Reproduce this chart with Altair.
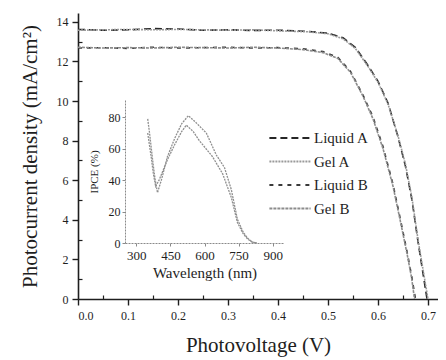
import altair as alt
import pandas as pd

# ---------------- data ----------------
series_names = ["Liquid A", "Gel A", "Liquid B", "Gel B"]

v_liquid_a = [0.00, 0.05, 0.10, 0.15, 0.20, 0.25, 0.30, 0.35, 0.40, 0.46, 0.50, 0.53, 0.555, 0.58, 0.60, 0.62, 0.64, 0.655, 0.668, 0.68, 0.69, 0.698]
j_liquid_a = [13.62, 13.58, 13.6, 13.66, 13.64, 13.58, 13.6, 13.57, 13.58, 13.52, 13.43, 13.2, 12.7, 11.8, 11.0, 9.9, 8.2, 6.7, 5.0, 2.9, 1.3, 0.0]

v_gel_a = [0.00, 0.05, 0.10, 0.15, 0.20, 0.25, 0.30, 0.35, 0.40, 0.46, 0.50, 0.53, 0.555, 0.58, 0.60, 0.62, 0.64, 0.655, 0.668, 0.68, 0.69, 0.700]
j_gel_a = [13.58, 13.6, 13.62, 13.6, 13.62, 13.6, 13.58, 13.6, 13.55, 13.5, 13.4, 13.15, 12.65, 11.75, 10.95, 9.85, 8.25, 6.8, 5.1, 3.0, 1.5, 0.0]

v_liquid_b = [0.00, 0.05, 0.10, 0.15, 0.20, 0.25, 0.30, 0.35, 0.40, 0.45, 0.49, 0.52, 0.545, 0.57, 0.59, 0.61, 0.63, 0.645, 0.658, 0.667, 0.675]
j_liquid_b = [12.68, 12.7, 12.66, 12.72, 12.68, 12.7, 12.72, 12.68, 12.7, 12.64, 12.5, 12.2, 11.5, 10.3, 9.2, 7.7, 5.8, 4.0, 2.4, 1.2, 0.0]

v_gel_b = [0.00, 0.05, 0.10, 0.15, 0.20, 0.25, 0.30, 0.35, 0.40, 0.45, 0.49, 0.52, 0.545, 0.57, 0.59, 0.61, 0.63, 0.645, 0.658, 0.667, 0.673]
j_gel_b = [12.72, 12.68, 12.7, 12.68, 12.72, 12.7, 12.68, 12.72, 12.68, 12.6, 12.45, 12.15, 11.45, 10.25, 9.1, 7.6, 5.7, 3.9, 2.3, 1.1, 0.0]

wl_1 = [350, 358, 366, 374, 382, 393, 410, 437, 470, 500, 529, 560, 608, 652, 688, 718, 745, 770, 790, 811, 830]
ipce_1 = [79, 70, 60, 50, 41, 32, 40, 55, 67, 76, 81, 77, 70, 56, 48, 34, 15, 7, 3, 0.5, 0]

wl_2 = [350, 358, 366, 375, 385, 400, 420, 437, 470, 500, 520, 550, 578, 635, 680, 718, 745, 770, 790, 811, 830]
ipce_2 = [70, 62, 54, 44, 36, 40, 47, 53, 63, 71, 75, 71, 65, 55, 44, 29, 13, 6, 2.5, 0.5, 0]

x_ticks = [0.0, 0.1, 0.2, 0.3, 0.4, 0.5, 0.6, 0.7]
x_minor = [0.05, 0.15, 0.25, 0.35, 0.45, 0.55, 0.65]
y_ticks = [0, 2, 4, 6, 8, 10, 12, 14]
y_minor = [1, 3, 5, 7, 9, 11, 13]
inset_x_ticks = [300, 450, 600, 750, 900]
inset_y_ticks = [0, 20, 40, 60, 80]

# ---------------- tables ----------------
rows = []
for name, vs, js in [("Liquid A", v_liquid_a, j_liquid_a), ("Gel A", v_gel_a, j_gel_a),
                     ("Liquid B", v_liquid_b, j_liquid_b), ("Gel B", v_gel_b, j_gel_b)]:
    for v, j in zip(vs, js):
        rows.append({"series": name, "V": v, "J": j})
iv = pd.DataFrame(rows)

irows = []
for name, ws, ps in [("1", wl_1, ipce_1), ("2", wl_2, ipce_2)]:
    for w, p in zip(ws, ps):
        irows.append({"curve": name, "wl": w, "ipce": p})
ipce = pd.DataFrame(irows)

FONT = "Liberation Serif"
INK = "#1e1e1e"
W, H = 360, 286

xs = alt.Scale(domain=[0, 0.72], nice=False, zero=False)
ys = alt.Scale(domain=[0, 14.45], nice=False)

main = alt.Chart(iv).mark_line(strokeWidth=1.6).encode(
    x=alt.X("V:Q", scale=xs, axis=alt.Axis(
        orient="bottom", values=x_ticks, format=".1f", title="Photovoltage (V)",
        grid=False, tickSize=6, labelPadding=5, labelFont=FONT, labelFontSize=12,
        titleFont=FONT, titleFontSize=21, titlePadding=13, domainWidth=1.6, tickWidth=1.4)),
    y=alt.Y("J:Q", scale=ys, axis=alt.Axis(
        orient="left", values=y_ticks, format="d", title="Photocurrent density (mA/cm²)",
        grid=False, tickSize=6, labelPadding=4, labelFont=FONT, labelFontSize=12,
        titleFont=FONT, titleFontSize=21, titlePadding=16, domainWidth=1.6, tickWidth=1.4)),
    color=alt.Color("series:N", scale=alt.Scale(
        domain=series_names, range=["#262626", "#9a9a9a", "#3a3a3a", "#8c8c8c"]),
        legend=alt.Legend(title=None, orient="none", legendX=190, legendY=114,
                          symbolType="stroke", symbolSize=1700, symbolStrokeWidth=1.8,
                          labelFont=FONT, labelFontSize=15, labelColor=INK,
                          clipHeight=22, rowPadding=1.5, labelOffset=2)),
    strokeDash=alt.StrokeDash("series:N", scale=alt.Scale(
        domain=series_names, range=[[7, 4], [2, 1], [4, 5], [3, 1]]), legend=None),
)

minor = alt.Chart(iv).mark_line(opacity=0).encode(
    x=alt.X("V:Q", scale=xs, axis=alt.Axis(
        orient="bottom", values=x_minor, labels=False, title="", grid=False,
        domain=False, tickSize=4, offset=-4, tickWidth=1.2)),
    y=alt.Y("J:Q", scale=ys, axis=alt.Axis(
        orient="left", values=y_minor, labels=False, title="", grid=False,
        domain=False, tickSize=4, offset=-4, tickWidth=1.2)),
)

inset = alt.Chart(ipce).mark_line(strokeWidth=1.3, color="#8f8f8f", strokeDash=[2, 1]).encode(
    x=alt.X("wl:Q", scale=alt.Scale(domain=[250, 950], range=[47, 206], nice=False, zero=False),
            axis=alt.Axis(orient="bottom", offset=-56, values=inset_x_ticks, title="Wavelength (nm)",
                          grid=False, tickSize=3, labelFont=FONT, labelFontSize=13,
                          titleFont=FONT, titleFontSize=15, titlePadding=3,
                          labelPadding=3, domainColor="#8a8a8a", domainDash=[2, 1], tickColor="#8a8a8a")),
    y=alt.Y("ipce:Q", scale=alt.Scale(domain=[0, 91], range=[230, 87], nice=False),
            axis=alt.Axis(orient="left", offset=-47, values=inset_y_ticks, title="IPCE (%)",
                          grid=False, tickSize=3, labelFont=FONT, labelFontSize=12,
                          titleFont=FONT, titleFontSize=11, titlePadding=9,
                          labelPadding=2, domainColor="#8a8a8a", domainDash=[2, 1], tickColor="#8a8a8a")),
    detail="curve:N",
)

chart = alt.layer(main, minor, inset).resolve_scale(
    x="independent", y="independent"
).resolve_axis(
    x="independent", y="independent"
).properties(
    width=W, height=H, background="white",
    padding={"left": 70, "top": 5, "right": 0, "bottom": 60},
    autosize=alt.AutoSizeParams(type="none"),
).configure_view(stroke=None).configure_axis(
    labelFont=FONT, titleFont=FONT, labelColor=INK, titleColor=INK,
    domainColor=INK, tickColor=INK, titleFontWeight="normal",
).configure_legend(labelFont=FONT)

chart.save("out.html", embed_options={"renderer": "svg", "actions": False})
